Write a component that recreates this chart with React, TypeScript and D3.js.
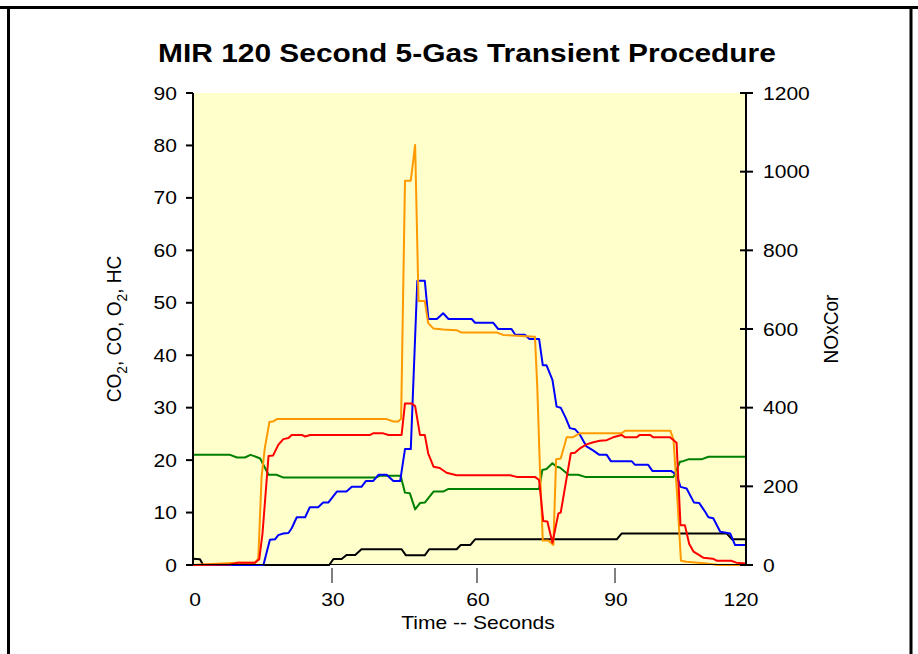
import * as d3 from "d3";

// time (s), value pairs
const hc: [number, number][] = [
  [0, 0], [15.2, 0], [16.6, 4.8], [17.7, 4.9], [18.4, 5.7], [19.5, 6], [20.6, 6.1], [21.3, 7],
  [22.4, 9.1], [24.2, 9.1], [25.2, 11], [27, 11], [28.1, 11.9], [29.2, 11.9], [31, 14], [33, 14],
  [34.1, 14.9], [36.1, 14.9], [37, 16], [38.5, 16], [39.6, 17.2], [41.3, 17.2], [42.7, 16],
  [44.1, 16], [45.1, 22.1], [46.3, 22.1], [47.65, 54.2], [49.2, 54.2], [49.95, 46.9], [51.7, 46.9],
  [53, 48], [54.1, 46.9], [58.9, 46.9], [59.6, 46.2], [63.5, 46.2], [64.6, 45], [67.5, 45],
  [68.3, 43.9], [70.4, 43.9], [71.4, 43.1], [73.5, 43.1], [74.3, 38.1], [75.1, 38.1], [76.4, 35.3],
  [77.3, 30.2], [78.2, 30], [79.3, 28], [80.2, 26.1], [81.3, 25.9], [82.4, 24.8], [83.8, 22.6],
  [85.3, 21.8], [86.6, 21], [88.2, 21], [89.1, 19.8], [93.8, 19.8], [94.6, 19.1], [97.6, 19.1],
  [98.6, 17.9], [102.9, 17.9], [104.1, 17.2], [105, 14.9], [106.4, 14.6], [108.1, 11.9],
  [109.3, 11.8], [110.6, 10.2], [111.4, 9.1], [112.5, 8.9], [114.1, 6.35], [116.4, 6], [117.5, 3.8],
  [120, 3.8],
];

const co2: [number, number][] = [
  [0, 0], [8, 0.1], [9.7, 0.45], [13.4, 0.45], [14.3, 1.1], [15, 6], [16.3, 20.8], [17.3, 20.9],
  [18.4, 22.9], [19.5, 24], [20.6, 24.2], [21.3, 24.8], [23.5, 24.8], [24.2, 24.5], [25.3, 24.8],
  [37.9, 24.8], [38.5, 25.1], [40.6, 25.1], [41.7, 24.8], [44.4, 24.8], [45.1, 30.8], [46.5, 30.8],
  [47.2, 30.3], [48.2, 24.8], [49.2, 24.8], [49.9, 21.3], [51, 18.75], [52.3, 18.5], [53.7, 17.6],
  [55.8, 17.1], [67.2, 17.1], [68.6, 16.8], [72.6, 16.8], [73.5, 16.2], [74.4, 8.4], [75.3, 8.3],
  [76.4, 4.25], [77.7, 9.85], [78.2, 10], [80.4, 21.3], [81.3, 21.4], [82.4, 22.25], [83.8, 23],
  [85.3, 23.4], [86.7, 23.7], [88.2, 23.8], [89.6, 24.35], [91.5, 24.8], [92.3, 24.35],
  [94.9, 24.35], [95.7, 24.8], [98, 24.8], [98.8, 24.35], [102.6, 24.35], [104.1, 23.3], [105, 7.6],
  [106, 7.6], [107, 4], [108, 2.55], [110.2, 1.4], [112.4, 1.2], [113.4, 0.8], [116.6, 0.8],
  [117.8, 0.45], [120, 0.3],
];

const o2: [number, number][] = [
  [0, 21], [8, 21], [9.5, 20.5], [11.2, 20.5], [12.4, 21], [13.7, 20.6], [14.5, 20.3], [16.3, 17.2],
  [18, 17.2], [19.4, 16.7], [39.1, 16.7], [39.9, 17], [44.2, 17], [45.1, 13.8], [46.1, 13.7],
  [47.2, 10.6], [48.2, 11.8], [49.2, 11.9], [51, 14], [53, 14], [54.1, 14.5], [73.5, 14.5],
  [74.2, 18.1], [75.1, 18.3], [76.4, 19.4], [77.3, 18.75], [78, 18.6], [79.9, 17.2], [82, 17.2],
  [83.5, 16.8], [103.4, 16.8], [104.9, 19.7], [105.6, 19.8], [106.8, 20.15], [109.8, 20.15],
  [111.4, 20.65], [120, 20.65],
];

const co: [number, number][] = [
  [0, 1.2], [1.5, 1.1], [2.2, 0], [29.4, 0], [30.3, 1.15], [32, 1.15], [33, 1.9], [34.8, 1.9],
  [36.1, 3], [44.4, 3], [45.3, 1.85], [49.2, 1.85], [50.1, 3], [55.8, 3], [56.6, 3.8], [58.6, 3.8],
  [59.6, 4.9], [90.4, 4.9], [91.5, 6], [115.6, 6], [116.8, 4.9], [120, 4.9],
];

// NOxCor, ppm (right axis)
const nox: [number, number][] = [
  [0, 0], [9.4, 6], [13.4, 6], [14.1, 17], [14.8, 224], [15.5, 297], [16.5, 364], [17.3, 365],
  [18.1, 371], [41.3, 371], [42.7, 365], [43.7, 365], [44.3, 372], [45.1, 977], [46.3, 977],
  [47.2, 1068], [47.9, 671], [49.2, 671], [49.9, 615], [51, 601], [53, 599], [55.8, 597],
  [56.8, 591], [64.3, 591], [65.7, 585], [72.6, 580], [73.1, 453], [73.7, 240], [74.3, 62],
  [75.5, 62], [76.6, 51], [77.2, 269], [78.2, 271], [79.5, 325], [80.9, 325], [82.4, 335],
  [91.5, 335], [92.3, 341], [102.7, 341], [103.4, 319], [104.3, 165], [105.1, 11], [106.4, 8],
  [111, 4], [113.6, 0], [120, 0],
];

const xTicks = [0, 30, 60, 90, 120];
const leftTicks = [0, 10, 20, 30, 40, 50, 60, 70, 80, 90];
const rightTicks = [0, 200, 400, 600, 800, 1000, 1200];

const W = 918;
const H = 654;
const L = 193;
const R = 746;
const T = 93;
const B = 565;
const SX = 1.17; // the original's text is a bit wide

export default function App() {
  // the category axis in the original isn't evenly spaced, so map each tick
  const x = d3.scaleLinear().domain([0, 30, 60, 90, 120]).range([L, 332, 477, 615, R]);
  const yL = d3.scaleLinear().domain([0, 90]).range([B, T]);
  const yR = d3.scaleLinear().domain([0, 1200]).range([B, T]);

  const lineL = d3.line<[number, number]>().x((d) => x(d[0])).y((d) => yL(d[1]));
  const lineR = d3.line<[number, number]>().x((d) => x(d[0])).y((d) => yR(d[1]));

  const series = [
    { d: lineL(co), c: "#000000" },
    { d: lineL(o2), c: "#008000" },
    { d: lineL(hc), c: "#0000FF" },
    { d: lineR(nox), c: "#FF9900" },
    { d: lineL(co2), c: "#FF0000" },
  ];

  const font = "'Liberation Sans', Arial, sans-serif";
  const at = (px: number, py: number) => `translate(${px},${py}) scale(${SX},1)`;

  return (
    <svg
      width={W}
      height={H}
      style={{ position: "absolute", left: 0, top: 0, background: "#fff" }}
      fontFamily={font}
    >
      {/* frame */}
      <line x1={0} x2={W} y1={7.5} y2={7.5} stroke="#000" strokeWidth={3} />
      <line x1={8.5} x2={8.5} y1={7} y2={H} stroke="#000" strokeWidth={3} />
      <line x1={911} x2={911} y1={7} y2={H} stroke="#000" strokeWidth={3} />

      <text transform={`translate(467,62) scale(1.15,1)`} textAnchor="middle" fontSize={26} fontWeight="bold">
        MIR 120 Second 5-Gas Transient Procedure
      </text>

      <rect x={L} y={T} width={R - L} height={B - T} fill="#FFFFCC" />

      {series.map((s, i) => (
        <path key={i} d={s.d ?? ""} fill="none" stroke={s.c} strokeWidth={2} strokeLinejoin="round" />
      ))}

      {/* x axis */}
      <line x1={L} x2={R} y1={B - 0.5} y2={B - 0.5} stroke="#000" strokeWidth={1} />
      {xTicks.map((t) => (
        <g key={t}>
          {t > 0 && t < 120 && (
            <line x1={x(t)} x2={x(t)} y1={B + 3} y2={B + 18} stroke="#000" strokeWidth={1} />
          )}
          <text transform={at(x(t) + (t === 120 ? -5 : t === 0 ? 2 : 1), 606)} textAnchor="middle" fontSize={18}>
            {t}
          </text>
        </g>
      ))}
      <text transform={at(478, 629)} textAnchor="middle" fontSize={18}>
        Time -- Seconds
      </text>

      {/* left axis */}
      <line x1={L} x2={L} y1={T} y2={B} stroke="#000" strokeWidth={2} />
      {leftTicks.map((t) => (
        <g key={t}>
          <line x1={L - 7} x2={L} y1={yL(t)} y2={yL(t)} stroke="#000" strokeWidth={2} />
          <text transform={at(177, yL(t) + 6.5)} textAnchor="end" fontSize={18}>
            {t}
          </text>
        </g>
      ))}
      <text transform={`translate(121,${(T + B) / 2}) rotate(-90) scale(1.06,1.12)`} textAnchor="middle" fontSize={18}>
        CO<tspan fontSize={13} dy={5}>2</tspan>
        <tspan dy={-5}>, CO, O</tspan>
        <tspan fontSize={13} dy={5}>2</tspan>
        <tspan dy={-5}>, HC</tspan>
      </text>

      {/* right axis */}
      <line x1={R} x2={R} y1={T} y2={B} stroke="#000" strokeWidth={2} />
      {rightTicks.map((t) => (
        <g key={t}>
          <line x1={R - 6} x2={R + 7} y1={yR(t)} y2={yR(t)} stroke="#000" strokeWidth={2} />
          <text transform={at(763, yR(t) + 6.5)} textAnchor="start" fontSize={18}>
            {t}
          </text>
        </g>
      ))}
      <text transform={`translate(838,${(T + B) / 2}) rotate(-90) scale(1.06,1.12)`} textAnchor="middle" fontSize={18}>
        NOxCor
      </text>
    </svg>
  );
}
